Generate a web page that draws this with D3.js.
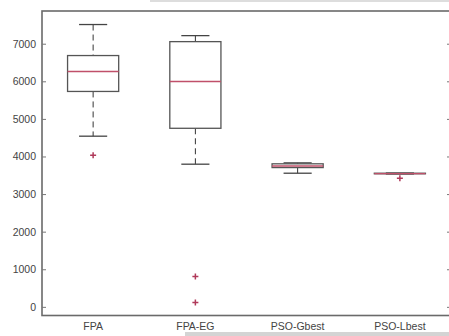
<!DOCTYPE html>
<html>
<head>
<meta charset="utf-8">
<script src="https://cdn.jsdelivr.net/npm/d3@7"></script>
<style>
  body { margin: 0; background: #fff; }
  text { font-family: "Liberation Sans", Arial, sans-serif; fill: #444; }
</style>
</head>
<body>
<div id="main"></div>
<script>
const categories = ["FPA", "FPA-EG", "PSO-Gbest", "PSO-Lbest"];
const whiskerHi = [7510, 7215, 3830, 3560];
const q3 = [6685, 7055, 3805, 3555];
const median = [6260, 5995, 3745, 3545];
const q1 = [5730, 4750, 3705, 3540];
const whiskerLo = [4540, 3795, 3555, 3535];
const outliers = [[4030], [805, 115], [], [3420]];
const yTicks = [0, 1000, 2000, 3000, 4000, 5000, 6000, 7000];

const ctx = {
    w: 449,
    h: 336,
    left: 42,
    right: 451,
    top: 11,
    bottom: 315.5
};

const svg = d3.select("#main").append("svg")
    .attr("width", ctx.w)
    .attr("height", ctx.h);

svg.append("rect").attr("width", ctx.w).attr("height", ctx.h).attr("fill", "#fff");
// scan artefacts at the edges
svg.append("rect").attr("x", 150).attr("y", 0).attr("width", 299).attr("height", 2).attr("fill", "#ddd");
svg.append("rect").attr("x", 185).attr("y", 332).attr("width", 264).attr("height", 4).attr("fill", "#d4d4d4");

const x = d3.scaleLinear().domain([0.5, 4.5]).range([ctx.left, ctx.right]);
const y = d3.scaleLinear().domain([-230, 7870]).range([ctx.bottom, ctx.top]);
const unit = x(2) - x(1);
const boxW = unit * 0.5;
const capW = boxW * 0.55;

// frame
svg.append("rect")
    .attr("x", ctx.left).attr("y", ctx.top)
    .attr("width", ctx.right - ctx.left).attr("height", ctx.bottom - ctx.top)
    .attr("fill", "none").attr("stroke", "#6a6a6a").attr("stroke-width", 1.6);

// left axis, ticks inward
const yAxis = d3.axisLeft(y).tickValues(yTicks).tickSize(-4).tickPadding(6).tickFormat(d3.format("d"));
const gy = svg.append("g").attr("transform", `translate(${ctx.left},0)`).call(yAxis);
gy.select(".domain").remove();
gy.selectAll("line").attr("stroke", "#777");
gy.selectAll("text").style("font-size", "10.5px").attr("fill", "#444");

// right axis ticks only
const yAxisR = d3.axisRight(y).tickValues(yTicks).tickSize(-4).tickFormat("");
const gyr = svg.append("g").attr("transform", `translate(${ctx.right},0)`).call(yAxisR);
gyr.select(".domain").remove();
gyr.selectAll("line").attr("stroke", "#777");

// category labels
svg.selectAll("text.cat")
    .data(categories)
    .enter().append("text")
    .attr("class", "cat")
    .attr("x", (d, i) => x(i + 1))
    .attr("y", 330)
    .attr("text-anchor", "middle")
    .style("font-size", "10.5px")
    .text(d => d);

const boxes = svg.selectAll("g.box")
    .data(categories)
    .enter().append("g")
    .attr("class", "box");

// whiskers
boxes.append("line")
    .attr("x1", (d, i) => x(i + 1)).attr("x2", (d, i) => x(i + 1))
    .attr("y1", (d, i) => y(whiskerHi[i])).attr("y2", (d, i) => y(q3[i]))
    .attr("stroke", "#333").attr("stroke-width", 1).attr("stroke-dasharray", "6,4");
boxes.append("line")
    .attr("x1", (d, i) => x(i + 1)).attr("x2", (d, i) => x(i + 1))
    .attr("y1", (d, i) => y(q1[i])).attr("y2", (d, i) => y(whiskerLo[i]))
    .attr("stroke", "#333").attr("stroke-width", 1).attr("stroke-dasharray", "6,4");

// caps
boxes.append("line")
    .attr("x1", (d, i) => x(i + 1) - capW / 2).attr("x2", (d, i) => x(i + 1) + capW / 2)
    .attr("y1", (d, i) => y(whiskerHi[i])).attr("y2", (d, i) => y(whiskerHi[i]))
    .attr("stroke", "#444").attr("stroke-width", 1.3);
boxes.append("line")
    .attr("x1", (d, i) => x(i + 1) - capW / 2).attr("x2", (d, i) => x(i + 1) + capW / 2)
    .attr("y1", (d, i) => y(whiskerLo[i])).attr("y2", (d, i) => y(whiskerLo[i]))
    .attr("stroke", "#444").attr("stroke-width", 1.3);

// box
boxes.append("rect")
    .attr("x", (d, i) => x(i + 1) - boxW / 2)
    .attr("y", (d, i) => y(q3[i]))
    .attr("width", boxW)
    .attr("height", (d, i) => Math.max(y(q1[i]) - y(q3[i]), 0.5))
    .attr("fill", "none").attr("stroke", "#555").attr("stroke-width", 1.3);

// median
boxes.append("line")
    .attr("x1", (d, i) => x(i + 1) - boxW / 2).attr("x2", (d, i) => x(i + 1) + boxW / 2)
    .attr("y1", (d, i) => y(median[i])).attr("y2", (d, i) => y(median[i]))
    .attr("stroke", "#c0506a").attr("stroke-width", 1.4);

// outliers as red plus markers
const pts = [];
outliers.forEach((arr, i) => arr.forEach(v => pts.push({i: i, v: v})));
svg.selectAll("path.out")
    .data(pts)
    .enter().append("path")
    .attr("class", "out")
    .attr("d", d => {
        const cx = x(d.i + 1), cy = y(d.v);
        return `M${cx - 3},${cy}H${cx + 3}M${cx},${cy - 3}V${cy + 3}`;
    })
    .attr("stroke", "#b03a5a").attr("stroke-width", 1.5);
</script>
</body>
</html>
